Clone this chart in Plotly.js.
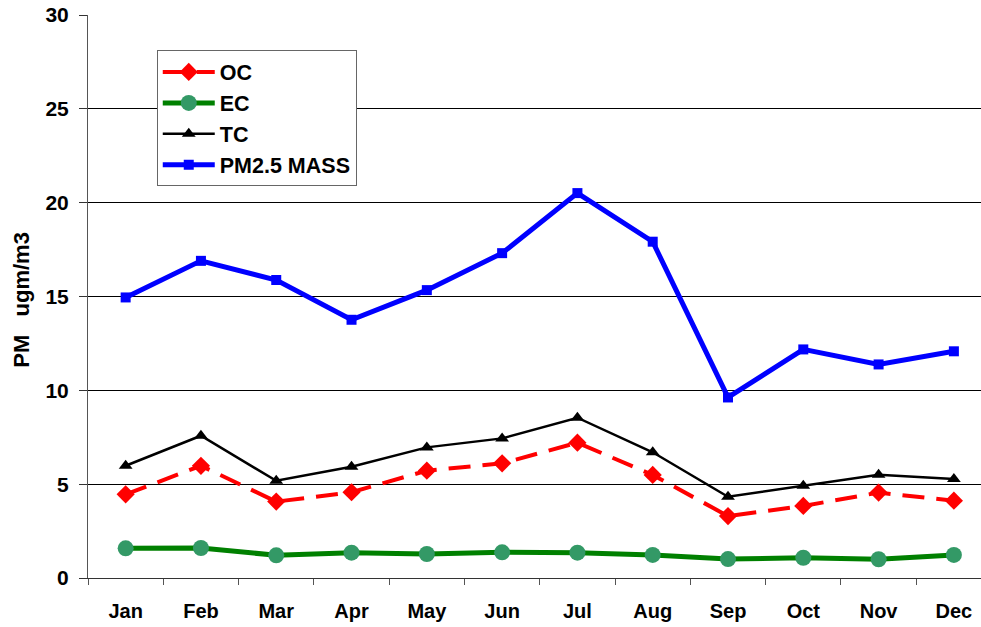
<!DOCTYPE html>
<html>
<head>
<meta charset="utf-8">
<script src="https://cdn.plot.ly/plotly-3.0.1.min.js"></script>
<style>html,body{margin:0;padding:0;background:#fff;}#chart{width:981px;height:627px;}</style>
</head>
<body>
<div id="chart"></div>
<script>
const months = ["Jan","Feb","Mar","Apr","May","Jun","Jul","Aug","Sep","Oct","Nov","Dec"];
const ocValues = [4.46, 5.98, 4.07, 4.57, 5.72, 6.11, 7.21, 5.49, 3.30, 3.84, 4.55, 4.12];
const ecValues = [1.58, 1.60, 1.21, 1.35, 1.28, 1.37, 1.35, 1.23, 1.01, 1.08, 1.00, 1.23];
const tcValues = [5.98, 7.58, 5.18, 5.93, 6.96, 7.44, 8.54, 6.70, 4.33, 4.92, 5.50, 5.27];
const pmValues = [14.95, 16.90, 15.88, 13.76, 15.34, 17.31, 20.51, 17.92, 9.62, 12.18, 11.38, 12.08];
const seriesNames = ["OC", "EC", "TC", "PM2.5 MASS"];
const yTicks = [0, 5, 10, 15, 20, 25, 30];

const FONT = "Liberation Sans, Arial, sans-serif";

const traces = [
  {x: months, y: ocValues, name: seriesNames[0], mode: "lines+markers",
   line: {color: "#FF0000", width: 4, dash: "22px,12px"},
   marker: {symbol: "diamond", size: 14, color: "#FF0000"}, cliponaxis: false},
  {x: months, y: ecValues, name: seriesNames[1], mode: "lines+markers",
   line: {color: "#008000", width: 5},
   marker: {symbol: "circle", size: 16, color: "#339966"}, cliponaxis: false},
  {x: months, y: tcValues, name: seriesNames[2], mode: "lines+markers",
   line: {color: "#000000", width: 2.5},
   marker: {symbol: "triangle-up", size: 12, color: "#000000"}, cliponaxis: false},
  {x: months, y: pmValues, name: seriesNames[3], mode: "lines+markers",
   line: {color: "#0000FF", width: 5},
   marker: {symbol: "square", size: 10, color: "#0000FF"}, cliponaxis: false}
];

const layout = {
  width: 981, height: 627,
  margin: {l: 88, r: 0, t: 15, b: 49},
  paper_bgcolor: "#ffffff", plot_bgcolor: "#ffffff",
  font: {family: FONT, size: 20, color: "#000", weight: "bold"},
  showlegend: true,
  legend: {
    x: 0.077, y: 0.937, xanchor: "left", yanchor: "top",
    bgcolor: "#ffffff", bordercolor: "#666666", borderwidth: 1,
    font: {family: FONT, size: 21.5, color: "#000", weight: "bold"},
    itemwidth: 52
  },
  xaxis: {
    type: "category",
    range: [-0.5, 11.36],
    tickson: "boundaries",
    ticks: "outside", ticklen: 6, tickcolor: "#555",
    showline: true, linecolor: "#333", linewidth: 1,
    showgrid: false, zeroline: false,
    tickfont: {family: FONT, size: 20, color: "#000", weight: "bold"},
    ticklabelstandoff: 15,
    fixedrange: true
  },
  yaxis: {
    range: [0, 30],
    tickvals: yTicks,
    ticks: "outside", ticklen: 8, tickcolor: "#333",
    showline: true, linecolor: "#555", linewidth: 1,
    showgrid: true, gridcolor: "#000", gridwidth: 1,
    zeroline: false,
    tickfont: {family: FONT, size: 21, color: "#000", weight: "bold"},
    ticklabelstandoff: 6,
    fixedrange: true
  },
  annotations: [{
    text: "PM   ugm/m3", textangle: -90,
    xref: "paper", yref: "paper", x: -0.074, y: 0.494,
    xanchor: "center", yanchor: "middle", showarrow: false,
    font: {family: FONT, size: 22, color: "#000", weight: "bold"}
  }]
};

Plotly.newPlot("chart", traces, layout, {displayModeBar: false, staticPlot: true});
</script>
</body>
</html>
